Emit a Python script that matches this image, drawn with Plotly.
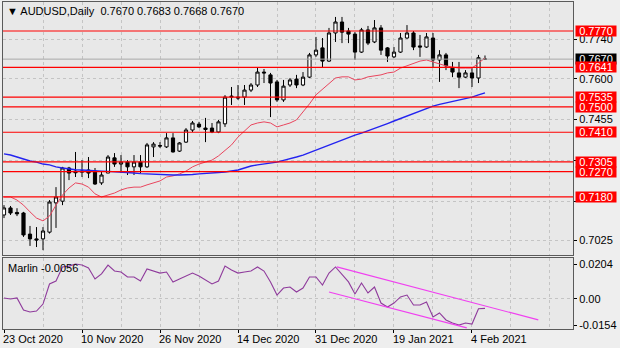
import plotly.graph_objects as go

# ---- chart data -------------------------------------------------------------
symbol = "AUDUSD"
timeframe = "Daily"

date_labels = ["23 Oct 2020", "10 Nov 2020", "26 Nov 2020", "14 Dec 2020",
               "31 Dec 2020", "19 Jan 2021", "4 Feb 2021"]
label_bars = [0, 12, 24, 36, 48, 60, 72]

opens = [0.7116, 0.7141, 0.7125, 0.7123, 0.7048, 0.7031, 0.7031, 0.7055, 0.7159, 0.7165,
         0.7283, 0.7272, 0.7268, 0.7276, 0.7272, 0.7230, 0.7265, 0.7319, 0.7297, 0.7304,
         0.7287, 0.7304, 0.7287, 0.7358, 0.7363, 0.7358, 0.7390, 0.7343, 0.7375, 0.7418,
         0.7439, 0.7425, 0.7425, 0.7411, 0.7440, 0.7535, 0.7535, 0.7535, 0.7560, 0.7578,
         0.7624, 0.7614, 0.7589, 0.7525, 0.7578, 0.7599, 0.7578, 0.7606, 0.7685, 0.7710,
         0.7663, 0.7763, 0.7802, 0.7770, 0.7759, 0.7695, 0.7774, 0.7731, 0.7781, 0.7710,
         0.7678, 0.7695, 0.7745, 0.7763, 0.7717, 0.7713, 0.7745, 0.7667, 0.7685, 0.7638,
         0.7621, 0.7606, 0.7621, 0.7603, 0.7670]
highs = [0.7151, 0.7148, 0.7140, 0.7127, 0.7077, 0.7073, 0.7073, 0.7169, 0.7215, 0.7287,
         0.7287, 0.7340, 0.7311, 0.7322, 0.7283, 0.7269, 0.7329, 0.7336, 0.7329, 0.7311,
         0.7329, 0.7329, 0.7372, 0.7375, 0.7375, 0.7407, 0.7407, 0.7375, 0.7425, 0.7450,
         0.7447, 0.7461, 0.7443, 0.7454, 0.7542, 0.7571, 0.7578, 0.7578, 0.7585, 0.7642,
         0.7635, 0.7621, 0.7596, 0.7596, 0.7603, 0.7614, 0.7624, 0.7692, 0.7749, 0.7745,
         0.7781, 0.7820, 0.7820, 0.7781, 0.7766, 0.7781, 0.7788, 0.7809, 0.7791, 0.7713,
         0.7713, 0.7763, 0.7791, 0.7770, 0.7756, 0.7763, 0.7763, 0.7702, 0.7692, 0.7660,
         0.7660, 0.7631, 0.7638, 0.7685, 0.7683]
lows = [0.7105, 0.7116, 0.7112, 0.7038, 0.7006, 0.7002, 0.6991, 0.7050, 0.7070, 0.7151,
        0.7240, 0.7251, 0.7251, 0.7247, 0.7223, 0.7223, 0.7265, 0.7287, 0.7265, 0.7258,
        0.7258, 0.7265, 0.7283, 0.7322, 0.7354, 0.7354, 0.7338, 0.7340, 0.7372, 0.7411,
        0.7425, 0.7375, 0.7407, 0.7407, 0.7429, 0.7507, 0.7525, 0.7507, 0.7553, 0.7571,
        0.7585, 0.7464, 0.7518, 0.7518, 0.7571, 0.7567, 0.7574, 0.7603, 0.7678, 0.7642,
        0.7660, 0.7731, 0.7727, 0.7727, 0.7667, 0.7692, 0.7720, 0.7727, 0.7685, 0.7660,
        0.7674, 0.7692, 0.7742, 0.7702, 0.7678, 0.7710, 0.7642, 0.7589, 0.7631, 0.7606,
        0.7567, 0.7603, 0.7571, 0.7585, 0.7668]
closes = [0.7141, 0.7123, 0.7120, 0.7045, 0.7031, 0.7027, 0.7059, 0.7162, 0.7180, 0.7283,
          0.7265, 0.7266, 0.7272, 0.7265, 0.7226, 0.7258, 0.7322, 0.7297, 0.7304, 0.7287,
          0.7304, 0.7287, 0.7365, 0.7368, 0.7361, 0.7390, 0.7340, 0.7372, 0.7418, 0.7443,
          0.7429, 0.7420, 0.7411, 0.7447, 0.7535, 0.7538, 0.7532, 0.7560, 0.7578, 0.7624,
          0.7621, 0.7585, 0.7525, 0.7574, 0.7596, 0.7578, 0.7606, 0.7685, 0.7702, 0.7663,
          0.7763, 0.7802, 0.7766, 0.7759, 0.7695, 0.7774, 0.7727, 0.7781, 0.7702, 0.7681,
          0.7695, 0.7745, 0.7763, 0.7713, 0.7713, 0.7749, 0.7667, 0.7685, 0.7646, 0.7624,
          0.7606, 0.7621, 0.7603, 0.7675, 0.7670]

# fast (red) and slow (blue) moving averages
ma_fast = [0.7180, 0.7180, 0.7169, 0.7151, 0.7127, 0.7105, 0.7095, 0.7112, 0.7151, 0.7187,
           0.7212, 0.7230, 0.7226, 0.7215, 0.7191, 0.7180, 0.7187, 0.7194, 0.7205, 0.7212,
           0.7215, 0.7215, 0.7223, 0.7230, 0.7237, 0.7251, 0.7255, 0.7262, 0.7272, 0.7287,
           0.7297, 0.7304, 0.7311, 0.7326, 0.7347, 0.7365, 0.7393, 0.7415, 0.7436, 0.7443,
           0.7447, 0.7443, 0.7429, 0.7436, 0.7443, 0.7454, 0.7482, 0.7511, 0.7543, 0.7564,
           0.7585, 0.7603, 0.7607, 0.7607, 0.7596, 0.7599, 0.7607, 0.7610, 0.7614, 0.7621,
           0.7624, 0.7638, 0.7646, 0.7656, 0.7663, 0.7667, 0.7660, 0.7653, 0.7646, 0.7642,
           0.7638, 0.7638, 0.7638, 0.7656, 0.7674]
ma_slow = [0.7333, 0.7329, 0.7322, 0.7315, 0.7308, 0.7304, 0.7297, 0.7294, 0.7287, 0.7283,
           0.7279, 0.7277, 0.7276, 0.7274, 0.7272, 0.7272, 0.7271, 0.7270, 0.7269, 0.7267,
           0.7265, 0.7263, 0.7262, 0.7260, 0.7258, 0.7258, 0.7258, 0.7258, 0.7258, 0.7260,
           0.7262, 0.7263, 0.7265, 0.7267, 0.7269, 0.7272, 0.7276, 0.7283, 0.7290, 0.7294,
           0.7297, 0.7301, 0.7304, 0.7310, 0.7315, 0.7322, 0.7329, 0.7338, 0.7347, 0.7356,
           0.7365, 0.7374, 0.7383, 0.7391, 0.7400, 0.7407, 0.7415, 0.7423, 0.7432, 0.7441,
           0.7450, 0.7459, 0.7468, 0.7477, 0.7486, 0.7494, 0.7503, 0.7509, 0.7514, 0.7519,
           0.7525, 0.7530, 0.7535, 0.7543, 0.7550]

# Marlin oscillator
marlin = [0.0005, -0.0001, 0.0005, -0.0066, -0.0077, -0.0072, -0.0031, 0.0087, 0.0104, 0.0187,
          0.0192, 0.0204, 0.0198, 0.0181, 0.0116, 0.0146, 0.0198, 0.0163, 0.0157, 0.0128,
          0.0128, 0.0104, 0.0175, 0.0163, 0.0151, 0.0157, 0.0099, 0.0116, 0.0134, 0.0151,
          0.0134, 0.0110, 0.0087, 0.0104, 0.0192, 0.0169, 0.0151, 0.0157, 0.0163, 0.0187,
          0.0163, 0.0099, 0.0022, 0.0063, 0.0069, 0.0040, 0.0063, 0.0128, 0.0128, 0.0081,
          0.0151, 0.0187, 0.0140, 0.0099, 0.0028, 0.0093, 0.0034, 0.0069, -0.0025, -0.0048,
          -0.0025, 0.0011, 0.0022, -0.0036, -0.0036, -0.0019, -0.0107, -0.0083, -0.0124, -0.0142,
          -0.0154, -0.0142, -0.0148, -0.0058, -0.0056]

# horizontal support / resistance levels
levels = [0.7770, 0.7641, 0.7535, 0.7500, 0.7410, 0.7305, 0.7270, 0.7180]
price_ticks = [0.7025, 0.7165, 0.7310, 0.7455, 0.7600, 0.7740]
price_tick_text = ["0.7025", "", "", "0.7455", "0.7600", "0.7740"]  # others sit under level tags
marlin_ticks = [0.0204, 0.0, -0.0154]
marlin_tick_text = ["0.0204", "0.00", "-0.0154"]

# descending channel on the oscillator (bar index, value)
channel_upper_bars = [51.2, 82.2]
channel_upper_vals = [0.0187, -0.0124]
channel_lower_bars = [50.0, 71.2]
channel_lower_vals = [0.0040, -0.0171]

# ---- styling ----------------------------------------------------------------
FONT = "Tahoma, 'Liberation Sans', Arial, sans-serif"
PAPER = "#eeeeee"
PANEL = "#e8e8e8"
FRAME = "#5a5a5a"
GRID = "#c4c4c4"
LEVEL_RED = "#ff0000"

bars = list(range(len(closes)))
last_bid = closes[-1]

fig = go.Figure()

fig.add_trace(go.Candlestick(
    x=bars, open=opens, high=highs, low=lows, close=closes,
    increasing=dict(line=dict(color="black", width=1), fillcolor="white"),
    decreasing=dict(line=dict(color="black", width=1), fillcolor="black"),
    whiskerwidth=0, xaxis="x", yaxis="y", showlegend=False, hoverinfo="skip"))

fig.add_trace(go.Scatter(x=bars, y=ma_fast, mode="lines", xaxis="x", yaxis="y",
                         line=dict(color="#e8465e", width=1), showlegend=False,
                         hoverinfo="skip"))
fig.add_trace(go.Scatter(x=bars, y=ma_slow, mode="lines", xaxis="x", yaxis="y",
                         line=dict(color="#2323f0", width=1.4), showlegend=False,
                         hoverinfo="skip"))

fig.add_trace(go.Scatter(x=bars, y=marlin, mode="lines", xaxis="x2", yaxis="y2",
                         line=dict(color="#8f3b9c", width=1.1), showlegend=False,
                         hoverinfo="skip"))
fig.add_trace(go.Scatter(x=channel_upper_bars, y=channel_upper_vals, mode="lines",
                         xaxis="x2", yaxis="y2", line=dict(color="#f040f0", width=1.2),
                         showlegend=False, hoverinfo="skip"))
fig.add_trace(go.Scatter(x=channel_lower_bars, y=channel_lower_vals, mode="lines",
                         xaxis="x2", yaxis="y2", line=dict(color="#f040f0", width=1.2),
                         showlegend=False, hoverinfo="skip"))

shapes = []
# bid line
shapes.append(dict(type="line", xref="x domain", yref="y", x0=0, x1=1,
                   y0=last_bid, y1=last_bid, line=dict(color="#a8a8a8", width=1),
                   layer="above"))
for lv in levels:
    shapes.append(dict(type="line", xref="x domain", yref="y", x0=0, x1=1,
                       y0=lv, y1=lv, line=dict(color=LEVEL_RED, width=1.2),
                       layer="above"))

annotations = []
# price tags on the right scale
annotations.append(dict(xref="paper", yref="y", x=1, y=last_bid, xanchor="left",
                        xshift=2, text=f"{last_bid:.4f}", showarrow=False,
                        bgcolor="black", font=dict(family=FONT, size=11, color="white"),
                        width=40, height=10, borderpad=0, align="center"))
for lv in levels:
    annotations.append(dict(xref="paper", yref="y", x=1, y=lv, xanchor="left",
                            xshift=2, text=f"{lv:.4f}", showarrow=False,
                            bgcolor=LEVEL_RED, font=dict(family=FONT, size=11, color="white"),
                            width=40, height=10, borderpad=0, align="center"))

# chart header
annotations.append(dict(
    xref="paper", yref="paper", x=0, y=1, xanchor="left", yanchor="top",
    xshift=2, yshift=-1, showarrow=False, align="left",
    text=f"▼ {symbol},{timeframe}  {opens[-1]:.4f} {highs[-1]:.4f} {lows[-1]:.4f} {closes[-1]:.4f}",
    font=dict(family=FONT, size=11, color="black")))

# oscillator caption
annotations.append(dict(
    xref="paper", yref="y2 domain", x=0, y=1, xanchor="left", yanchor="top",
    xshift=3, yshift=-2, showarrow=False, align="left",
    text=f"Marlin {marlin[-1]:.4f}",
    font=dict(family=FONT, size=11, color="black")))

# date labels, left-aligned on their tick
for b, lab in zip(label_bars, date_labels):
    annotations.append(dict(xref="x2", yref="paper", x=b, y=0, xanchor="left",
                            yanchor="top", xshift=-3, yshift=-2, showarrow=False,
                            text=lab, font=dict(family=FONT, size=11, color="black")))

grid_bars = list(range(6, 90, 6))
x_range = [-0.154, 87.54]

frame = dict(showline=True, mirror=True, linecolor=FRAME, linewidth=1, zeroline=False)
grid = dict(gridcolor=GRID, griddash="3px,3px", gridwidth=1)

fig.update_layout(
    width=620, height=348,
    margin=dict(l=3, r=47, t=2, b=19),
    paper_bgcolor=PAPER, plot_bgcolor=PANEL,
    showlegend=False,
    shapes=shapes, annotations=annotations,
    xaxis=dict(domain=[0, 1], anchor="y", range=x_range, tickmode="array",
               tickvals=grid_bars, showticklabels=False, ticks="", showgrid=True,
               rangeslider=dict(visible=False), **frame, **grid),
    yaxis=dict(domain=[0.2263, 1], anchor="x", side="right",
               range=[0.69737, 0.78731], tickmode="array", tickvals=price_ticks,
               ticktext=price_tick_text, ticks="outside", ticklen=3,
               tickcolor="black", showgrid=True,
               tickfont=dict(family=FONT, size=11, color="black"), **frame, **grid),
    xaxis2=dict(domain=[0, 1], anchor="y2", range=x_range, matches="x",
                tickmode="array", tickvals=label_bars, showticklabels=False,
                ticks="outside", ticklen=3, tickcolor="black", showgrid=False,
                minor=dict(tickvals=grid_bars, showgrid=True, ticks="", **grid),
                **frame),
    yaxis2=dict(domain=[0, 0.2171], anchor="x2", side="right",
                range=[-0.01772, 0.02394], tickmode="array", tickvals=marlin_ticks,
                ticktext=marlin_tick_text, ticks="outside", ticklen=3,
                tickcolor="black", showgrid=False,
                minor=dict(tickvals=[0.0], showgrid=True, ticks="", **grid),
                tickfont=dict(family=FONT, size=11, color="black"), **frame),
)

fig.write_html("out.html")
